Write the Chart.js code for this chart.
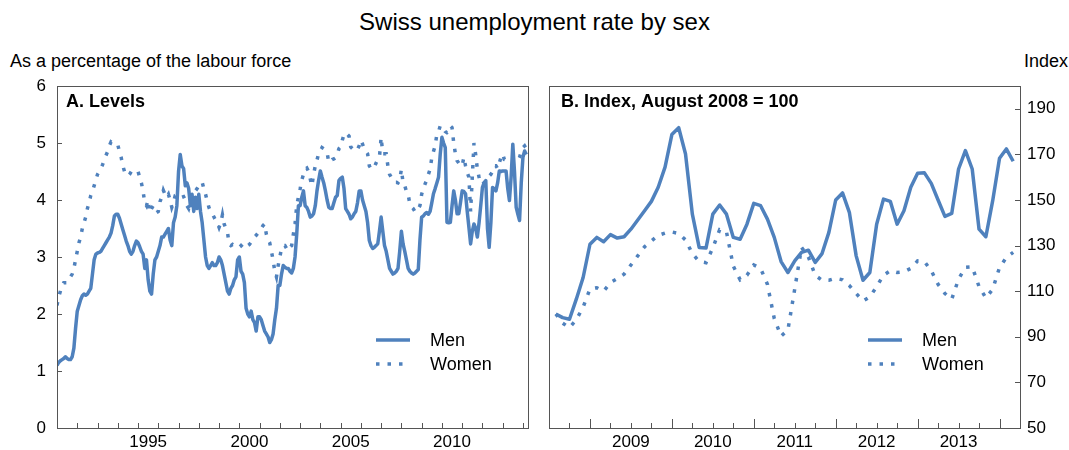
<!DOCTYPE html>
<html>
<head>
<meta charset="utf-8">
<script src="https://cdn.jsdelivr.net/npm/chart.js@4.4.1/dist/chart.umd.min.js"></script>
<style>
  html, body { margin: 0; padding: 0; background: #fff; }
  body { width: 1069px; height: 450px; position: relative; overflow: hidden;
         font-family: "Liberation Sans", Arial, sans-serif; color: #000; }
  #title { position: absolute; left: 0; top: 8px; width: 1069px; text-align: center; font-size: 24px; }
  #unitL { position: absolute; left: 10px; top: 51px; font-size: 18px; }
  #unitR { position: absolute; left: 1024px; top: 51px; font-size: 18px; }
  #a { position: absolute; left: 0; top: 0; }
  #b { position: absolute; left: 540px; top: 0; }
</style>
</head>
<body>
<div id="title">Swiss unemployment rate by sex</div>
<div id="unitL">As a percentage of the labour force</div>
<div id="unitR">Index</div>
<canvas id="a" width="540" height="450"></canvas>
<canvas id="b" width="529" height="450"></canvas>
<script>
// monthly, January 1991 to March 2014
const levelStart = [1991, 1];
const menLevel = [
    1.10, 1.15, 1.18, 1.20, 1.22, 1.25, 1.22, 1.20, 1.20, 1.25, 1.40, 1.75,
    2.05, 2.15, 2.25, 2.32, 2.35, 2.33, 2.35, 2.40, 2.45, 2.70, 2.95, 3.05,
    3.07, 3.08, 3.10, 3.15, 3.20, 3.25, 3.30, 3.35, 3.42, 3.55, 3.72, 3.75,
    3.75, 3.68, 3.58, 3.48, 3.38, 3.28, 3.20, 3.10, 3.05, 3.10, 3.20, 3.28,
    3.25, 3.18, 3.10, 3.05, 2.80, 2.95, 2.60, 2.40, 2.35, 2.70, 2.95, 3.00,
    3.10, 3.20, 3.35, 3.35, 3.40, 3.45, 3.50, 3.30, 3.20, 3.60, 3.70, 3.90,
    4.50, 4.80, 4.60, 4.55, 4.25, 4.30, 4.20, 3.90, 4.10, 3.80, 4.05, 3.85,
    4.10, 3.80, 3.60, 3.30, 3.00, 2.85, 2.80, 2.85, 2.90, 2.85, 2.85, 2.90,
    3.00, 2.95, 2.85, 2.70, 2.55, 2.40, 2.35, 2.45, 2.50, 2.60, 2.65, 2.95,
    3.00, 2.75, 2.70, 2.55, 2.10, 2.00, 1.95, 2.05, 1.90, 1.85, 1.70, 1.95,
    1.95, 1.90, 1.80, 1.70, 1.65, 1.60, 1.50, 1.55, 1.65, 1.90, 2.10, 2.50,
    2.50, 2.70, 2.85, 2.82, 2.80, 2.80, 2.75, 2.72, 2.80, 3.00, 3.40, 3.90,
    3.90, 4.05, 4.16, 3.90, 3.87, 3.80, 3.70, 3.72, 3.76, 3.90, 4.16, 4.35,
    4.51, 4.40, 4.30, 4.16, 4.00, 3.87, 3.85, 3.85, 3.95, 4.05, 4.08, 4.34,
    4.38, 4.40, 4.20, 3.85, 3.80, 3.75, 3.67, 3.70, 3.76, 3.80, 3.95, 4.16,
    4.16, 4.00, 3.90, 3.80, 3.60, 3.29, 3.20, 3.15, 3.17, 3.20, 3.23, 3.45,
    3.70, 3.45, 3.20, 3.10, 2.95, 2.80, 2.75, 2.70, 2.72, 2.75, 2.80, 3.10,
    3.45, 3.23, 3.10, 2.95, 2.80, 2.75, 2.72, 2.70, 2.72, 2.75, 2.78, 3.30,
    3.70, 3.72, 3.76, 3.78, 3.75, 3.80, 3.95, 4.11, 4.20, 4.30, 4.40, 4.80,
    5.10, 5.00, 4.92, 3.61, 3.60, 3.61, 3.90, 4.16, 4.00, 3.76, 3.76, 3.95,
    4.16, 4.15, 4.11, 3.80, 3.52, 3.23, 3.45, 3.58, 3.50, 3.35, 3.60, 3.90,
    4.22, 4.30, 4.34, 3.50, 3.17, 3.60, 4.22, 4.20, 4.16, 4.30, 4.51, 4.50,
    4.51, 4.51, 4.51, 4.20, 3.99, 4.40, 4.98, 4.50, 3.87, 3.75, 3.64, 4.30,
    4.75, 4.86, 4.80
];
const womenLevel = [
    2.15, 2.30, 2.40, 2.50, 2.55, 2.55, 2.55, 2.60, 2.65, 2.70, 2.80, 2.95,
    3.10, 3.25, 3.35, 3.50, 3.60, 3.70, 3.85, 3.95, 4.08, 4.15, 4.25, 4.35,
    4.45, 4.50, 4.55, 4.62, 4.70, 4.78, 4.85, 4.95, 5.02, 5.00, 4.98, 4.97,
    4.97, 4.85, 4.75, 4.60, 4.50, 4.45, 4.42, 4.45, 4.50, 4.52, 4.50, 4.50,
    4.50, 4.40, 4.30, 4.15, 3.95, 3.90, 4.00, 3.78, 3.85, 3.90, 3.85, 3.78,
    3.80, 3.97, 4.05, 4.17, 4.10, 4.05, 4.10, 4.00, 3.87, 3.95, 4.08, 4.10,
    4.08, 4.08, 4.05, 4.06, 4.00, 3.90, 3.85, 3.96, 4.00, 4.10, 4.16, 4.20,
    4.25, 4.30, 4.31, 4.20, 4.10, 3.98, 3.87, 3.80, 3.76, 3.70, 3.64, 3.60,
    3.52, 3.60, 3.74, 3.58, 3.50, 3.43, 3.23, 3.20, 3.22, 3.20, 3.18, 3.17,
    3.17, 3.20, 3.17, 3.15, 3.15, 3.20, 3.22, 3.26, 3.30, 3.35, 3.38, 3.42,
    3.46, 3.50, 3.55, 3.58, 3.40, 3.30, 3.25, 3.10, 2.95, 2.75, 2.65, 2.85,
    3.00, 3.15, 3.20, 3.20, 3.15, 3.11, 3.17, 3.20, 3.40, 3.58, 3.90, 4.05,
    4.19, 4.35, 4.45, 4.54, 4.56, 4.50, 4.37, 4.25, 4.45, 4.60, 4.70, 4.82,
    4.85, 4.92, 4.90, 4.87, 4.83, 4.66, 4.68, 4.71, 4.72, 4.74, 4.80, 4.90,
    4.93, 5.05, 5.15, 5.18, 5.15, 5.12, 4.93, 4.90, 4.86, 4.88, 4.89, 4.95,
    5.05, 4.98, 4.90, 4.85, 4.81, 4.60, 4.55, 4.54, 4.58, 4.65, 4.71, 4.75,
    5.10, 4.81, 4.81, 4.81, 4.60, 4.45, 4.40, 4.35, 4.31, 4.31, 4.30, 4.35,
    4.54, 4.30, 4.25, 4.15, 4.10, 3.93, 3.88, 3.85, 3.80, 3.79, 3.85, 3.90,
    4.10, 4.20, 4.28, 4.35, 4.45, 4.54, 4.74, 4.85, 4.95, 5.15, 5.20, 5.30,
    5.30, 5.25, 5.20, 5.18, 5.20, 5.30, 5.27, 5.00, 4.81, 4.69, 4.65, 4.60,
    4.60, 4.75, 4.60, 4.48, 4.40, 3.80, 4.40, 5.00, 4.80, 4.54, 4.40, 4.28,
    4.28, 4.30, 4.37, 4.40, 4.42, 4.45, 4.50, 4.60, 4.60, 4.55, 4.65, 4.75,
    4.81, 4.71, 4.70, 4.68, 4.65, 4.62, 4.62, 4.65, 4.68, 4.69, 4.75, 4.85,
    4.92, 4.95, 4.90
];

// monthly, August 2008 to March 2014, August 2008 = 100
const indexStart = [2008, 8];
const menIndex = [
    100.0, 98.4, 97.7, 106.5, 116.0, 130.6, 133.6, 131.7, 134.8, 133.3, 133.9, 137.2,
    141.2, 145.3, 149.4, 155.6, 164.4, 178.7, 181.7, 170.2, 143.8, 129.2, 128.9, 143.8,
    147.8, 143.8, 133.6, 132.8, 139.4, 148.5, 147.5, 141.6, 133.6, 123.0, 118.2, 123.3,
    127.0, 128.0, 122.6, 126.5, 135.8, 150.0, 153.1, 144.6, 125.5, 114.8, 118.2, 139.4,
    150.4, 149.4, 139.4, 145.3, 155.6, 161.7, 161.9, 157.3, 150.0, 142.8, 144.1, 163.6,
    171.7, 163.6, 137.2, 133.9, 149.7, 168.3, 172.4, 167.0
];
const womenIndex = [
    100.0, 96.0, 94.0, 97.5, 103.0, 111.0, 111.5, 110.0, 113.8, 115.5, 117.5, 121.5,
    125.5, 129.5, 132.0, 134.5, 135.5, 136.0, 135.3, 132.5, 126.5, 123.0, 122.5, 129.0,
    137.0, 136.0, 121.0, 115.0, 117.0, 121.5, 120.0, 113.0, 98.0, 90.3, 93.0, 111.0,
    129.2, 125.0, 117.0, 114.8, 114.8, 115.7, 115.0, 112.5, 109.0, 105.7, 107.5, 112.0,
    117.0, 119.0, 118.2, 118.5, 120.0, 123.3, 123.0, 119.0, 113.0, 109.0, 106.5, 115.3,
    120.5, 120.7, 112.0, 107.0, 110.9, 120.4, 124.8, 127.0
];

const seriesNames = ['Men', 'Women'];
const levelYearLabels = ['1995', '2000', '2005', '2010'];
const indexYearLabels = ['2009', '2010', '2011', '2012', '2013'];
const levelTicks = [0, 1, 2, 3, 4, 5, 6];
const indexTicks = [50, 70, 90, 110, 130, 150, 170, 190];

const BLUE = '#4f81bd';
const FONT = '"Liberation Sans", Arial, sans-serif';

Chart.defaults.font.family = FONT;
Chart.defaults.color = '#000';

function toPoints(start, values) {
    return values.map((v, i) => ({ x: start[0] + (start[1] - 1 + i) / 12, y: v }));
}

function makeDatasets(start, men, women) {
    return [
        { label: seriesNames[0], data: toPoints(start, men), borderColor: BLUE,
          borderWidth: 3.5, pointRadius: 0, tension: 0, borderJoinStyle: 'round' },
        { label: seriesNames[1], data: toPoints(start, women), borderColor: BLUE,
          borderWidth: 3.5, borderDash: [3.5, 8], pointRadius: 0, tension: 0 }
    ];
}

// box, inward tick marks, panel heading and legend inside the plot
const framePlugin = {
    id: 'frame',
    afterDraw(chart, args, o) {
        const { ctx, chartArea: a, scales } = chart;
        ctx.save();
        ctx.strokeStyle = '#555';
        ctx.lineWidth = 1;
        ctx.strokeRect(a.left + 0.5, a.top + 0.5, a.right - a.left, a.bottom - a.top);

        ctx.beginPath();
        const xs = scales.x;
        for (let q = Math.ceil(xs.min * o.perYear); q <= xs.max * o.perYear; q++) {
            const px = Math.round(xs.getPixelForValue(q / o.perYear)) + 0.5;
            const len = (q % o.perYear === 0) ? o.yearTick : o.subTick;
            ctx.moveTo(px, a.bottom);
            ctx.lineTo(px, a.bottom - len);
        }
        const ys = scales.y;
        ys.ticks.forEach(t => {
            const py = Math.round(ys.getPixelForValue(t.value)) + 0.5;
            if (o.side === 'left') {
                ctx.moveTo(a.left, py); ctx.lineTo(a.left + 5, py);
            } else {
                ctx.moveTo(a.right, py); ctx.lineTo(a.right - 5, py);
            }
        });
        ctx.stroke();

        ctx.fillStyle = '#000';
        ctx.textBaseline = 'middle';
        ctx.font = 'bold 18px ' + FONT;
        ctx.fillText(o.heading, a.left + o.headingX, a.top + 16);

        ctx.font = '18px ' + FONT;
        chart.data.datasets.forEach((ds, i) => {
            const y = a.top + 254 + i * 24;
            const x0 = a.left + 319;
            ctx.beginPath();
            ctx.strokeStyle = ds.borderColor;
            ctx.lineWidth = ds.borderWidth;
            ctx.setLineDash(ds.borderDash || []);
            ctx.moveTo(x0, y);
            ctx.lineTo(x0 + 34, y);
            ctx.stroke();
            ctx.setLineDash([]);
            ctx.fillText(ds.label, x0 + 54, y + 1);
        });
        ctx.restore();
    }
};

function yearAxis(min, max, labels) {
    return {
        type: 'linear', min: min, max: max,
        afterBuildTicks: s => { s.ticks = labels.map(l => ({ value: +l + 0.5 })); },
        afterFit: s => { s.height = 22; },
        ticks: { font: { size: 17 }, padding: 4, maxRotation: 0,
                 callback: v => String(Math.floor(v)) },
        grid: { display: false, drawTicks: false },
        border: { display: false }
    };
}

new Chart(document.getElementById('a'), {
    type: 'line',
    data: { datasets: makeDatasets(levelStart, menLevel, womenLevel) },
    options: {
        responsive: false, animation: false, devicePixelRatio: 1,
        layout: { padding: { top: 86, right: 12, left: 0, bottom: 0 } },
        plugins: { legend: { display: false }, tooltip: { enabled: false },
                   frame: { heading: 'A. Levels', headingX: 9, side: 'left',
                            perYear: 1, yearTick: 5, subTick: 5 } },
        scales: {
            x: yearAxis(1991, 2014.25, levelYearLabels),
            y: {
                min: 0, max: 6, position: 'left',
                afterBuildTicks: s => { s.ticks = levelTicks.map(v => ({ value: v })); },
                afterFit: s => { s.width = 57; },
                ticks: { font: { size: 17 }, padding: 11 },
                grid: { display: false, drawTicks: false },
                border: { display: false }
            }
        }
    },
    plugins: [framePlugin]
});

new Chart(document.getElementById('b'), {
    type: 'line',
    data: { datasets: makeDatasets(indexStart, menIndex, womenIndex) },
    options: {
        responsive: false, animation: false, devicePixelRatio: 1,
        layout: { padding: { top: 86, right: 0, left: 9, bottom: 0 } },
        plugins: { legend: { display: false }, tooltip: { enabled: false },
                   frame: { heading: 'B. Index, August 2008 = 100', headingX: 12, side: 'right',
                            perYear: 4, yearTick: 9, subTick: 5 } },
        scales: {
            x: yearAxis(2008.5, 2014.25, indexYearLabels),
            y: {
                min: 50, max: 200, position: 'right',
                afterBuildTicks: s => { s.ticks = indexTicks.map(v => ({ value: v })); },
                afterFit: s => { s.width = 49; },
                ticks: { font: { size: 17 }, padding: 7 },
                grid: { display: false, drawTicks: false },
                border: { display: false }
            }
        }
    },
    plugins: [framePlugin]
});
</script>
</body>
</html>
